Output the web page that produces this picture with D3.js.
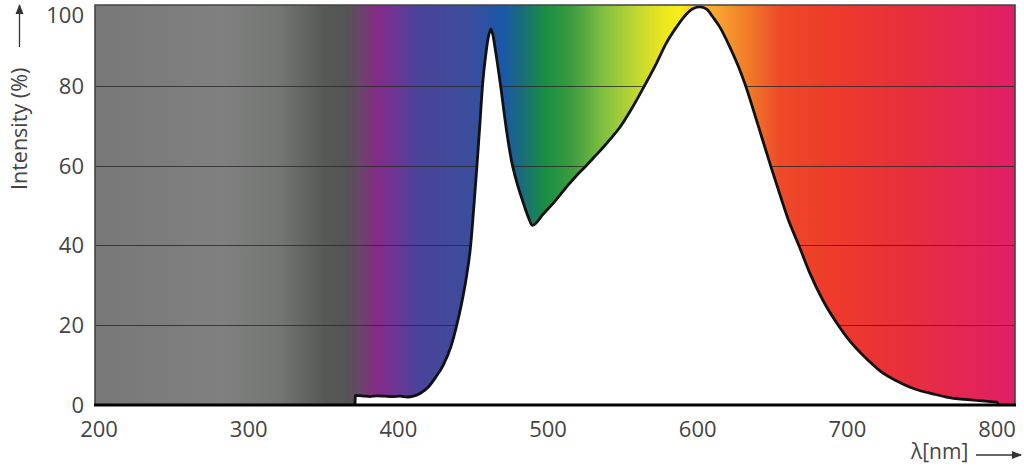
<!DOCTYPE html>
<html>
<head>
<meta charset="utf-8">
<script src="https://cdn.jsdelivr.net/npm/d3@7"></script>
<style>
  html, body { margin: 0; padding: 0; background: #fff; }
  svg { display: block; }
  text { font-family: "Open Sans", "DejaVu Sans", sans-serif; fill: #444; }
</style>
</head>
<body>
<svg id="chart" width="1024" height="469"></svg>
<script>
// emission spectrum (nm, % of max)
const wavelength = [371, 371.3, 376, 381, 386, 391, 396, 401, 406, 410, 415, 420, 425, 430, 435, 439,
  442, 445, 448.3, 450.5, 452.5, 454.4, 456.2, 458.3, 460, 461.8, 463, 465, 468.3, 472, 475.7, 479,
  483, 486.5, 489.5, 492, 496, 503.5, 509, 514.6, 520, 525.8, 531, 536.9, 542, 548, 557, 564.7,
  572.5, 579, 585.8, 592.5, 597, 601.5, 606, 610, 614.8, 621.5, 627, 632, 640, 648.7, 656, 660,
  667.6, 675, 684, 693.9, 700, 713, 722, 733, 745, 757, 766, 778, 788, 797, 800, 801];
const intensity = [0, 2.4, 2.3, 2.1, 2.3, 2.2, 2.1, 2.2, 2.0, 2.2, 3.0, 4.5, 7, 10, 14.5, 20,
  25, 31, 40, 50, 60, 70, 80, 87.5, 92, 94.2, 93, 88.5, 80, 69.5, 61, 56,
  51.2, 47.4, 45, 45.6, 47.5, 50.6, 53.1, 55.6, 57.9, 60.1, 62.2, 64.6, 66.8, 69.6, 75, 80.2,
  85.7, 90.7, 94.7, 98, 99.4, 99.8, 99.2, 97.3, 94.7, 89.7, 85, 80, 70.5, 60, 51.5, 47,
  40, 33, 26, 20, 16.8, 11.5, 8.5, 6, 4, 2.8, 2, 1.4, 1.1, 0.8, 0.7, 0];

// background spectrum colours
const spectrumNm = [197, 283, 320, 350, 366, 374, 386, 399, 412, 448, 470, 481, 499, 515, 537, 559,
  575, 588, 602, 615, 635, 655, 690, 735, 812];
const spectrumColor = ["#787878", "#7f807f", "#747674", "#575957", "#545454", "#6a466a", "#842a86",
  "#6a3696", "#4c429a", "#3b4d9c", "#1a58a8", "#1a6a80", "#199040", "#3a9a40", "#80c040", "#c0d830",
  "#e8e420", "#f8ee18", "#f8c020", "#f8a030", "#f07828", "#ee4a28", "#ee3a2a", "#e8303a", "#e01e68"];

const xTicks = [200, 300, 400, 500, 600, 700, 800];
const yTicks = [0, 20, 40, 60, 80, 100];
const xDomain = [197.3, 812];
const yDomain = [0, 100];

const plotLeft = 95, plotRight = 1015, plotTop = 5, plotBottom = 405;

const svg = d3.select("#chart");
const x = d3.scaleLinear(xDomain, [plotLeft, plotRight]);
const y = d3.scaleLinear(yDomain, [plotBottom, plotTop + 1]);

const data = wavelength.map((w, i) => ({w, v: intensity[i]}));

// gradient background
const defs = svg.append("defs");
const grad = defs.append("linearGradient")
  .attr("id", "spectrum")
  .attr("gradientUnits", "userSpaceOnUse")
  .attr("x1", plotLeft).attr("x2", plotRight).attr("y1", 0).attr("y2", 0);
grad.selectAll("stop")
  .data(spectrumNm)
  .join("stop")
  .attr("offset", d => (x(d) - plotLeft) / (plotRight - plotLeft))
  .attr("stop-color", (d, i) => spectrumColor[i]);

defs.append("marker")
  .attr("id", "arrow")
  .attr("viewBox", "0 0 10 10")
  .attr("refX", 9).attr("refY", 5)
  .attr("markerWidth", 10).attr("markerHeight", 10)
  .attr("markerUnits", "userSpaceOnUse")
  .attr("orient", "auto")
  .append("path")
  .attr("d", "M0,1 L10,5 L0,9 Z")
  .attr("fill", "#333");

svg.append("rect")
  .attr("x", plotLeft).attr("y", plotTop)
  .attr("width", plotRight - plotLeft).attr("height", plotBottom - plotTop)
  .attr("fill", "url(#spectrum)");

// grid lines
svg.append("g")
  .selectAll("line")
  .data(yTicks.filter(d => d > 0 && d < 100))
  .join("line")
  .attr("x1", plotLeft).attr("x2", plotRight)
  .attr("y1", d => Math.round(y(d)) + 0.5).attr("y2", d => Math.round(y(d)) + 0.5)
  .attr("stroke", "rgba(40,40,40,0.8)")
  .attr("stroke-width", 1.2);

// white area under the curve
const area = d3.area()
  .curve(d3.curveMonotoneX)
  .x(d => x(d.w))
  .y0(y(0))
  .y1(d => y(d.v));

const line = d3.line()
  .curve(d3.curveMonotoneX)
  .x(d => x(d.w))
  .y(d => y(d.v));

svg.append("path")
  .attr("d", area(data))
  .attr("fill", "#fff");

svg.append("path")
  .attr("d", line(data))
  .attr("fill", "none")
  .attr("stroke", "#111")
  .attr("stroke-width", 2.8)
  .attr("stroke-linejoin", "round");

// frame
svg.append("path")
  .attr("d", `M${plotLeft},${plotBottom} V${plotTop} H${plotRight} V${plotBottom}`)
  .attr("fill", "none")
  .attr("stroke", "#444")
  .attr("stroke-width", 1.6);

svg.append("line")
  .attr("x1", plotLeft - 1).attr("x2", plotRight + 1)
  .attr("y1", plotBottom).attr("y2", plotBottom)
  .attr("stroke", "#000")
  .attr("stroke-width", 3);

// tick labels
svg.append("g")
  .selectAll("text")
  .data(xTicks)
  .join("text")
  .attr("x", d => x(d))
  .attr("y", 437)
  .attr("text-anchor", "middle")
  .style("font-size", "22px")
  .text(d => d);

svg.append("g")
  .selectAll("text")
  .data(yTicks)
  .join("text")
  .attr("x", 84)
  .attr("y", d => Math.max(y(d), 15))
  .attr("dy", "0.36em")
  .attr("text-anchor", "end")
  .style("font-size", "22px")
  .text(d => d);

// axis titles with arrows
svg.append("text")
  .attr("transform", "translate(27,190) rotate(-90)")
  .attr("text-anchor", "start")
  .style("font-size", "21.5px")
  .text("Intensity (%)");

svg.append("line")
  .attr("x1", 19.5).attr("x2", 19.5)
  .attr("y1", 47).attr("y2", 5)
  .attr("stroke", "#333").attr("stroke-width", 1.3)
  .attr("marker-end", "url(#arrow)");

svg.append("text")
  .attr("x", 911)
  .attr("y", 459)
  .style("font-size", "21px")
  .text("λ[nm]");

svg.append("line")
  .attr("x1", 976).attr("x2", 1021)
  .attr("y1", 455).attr("y2", 455)
  .attr("stroke", "#333").attr("stroke-width", 1.3)
  .attr("marker-end", "url(#arrow)");
</script>
</body>
</html>
